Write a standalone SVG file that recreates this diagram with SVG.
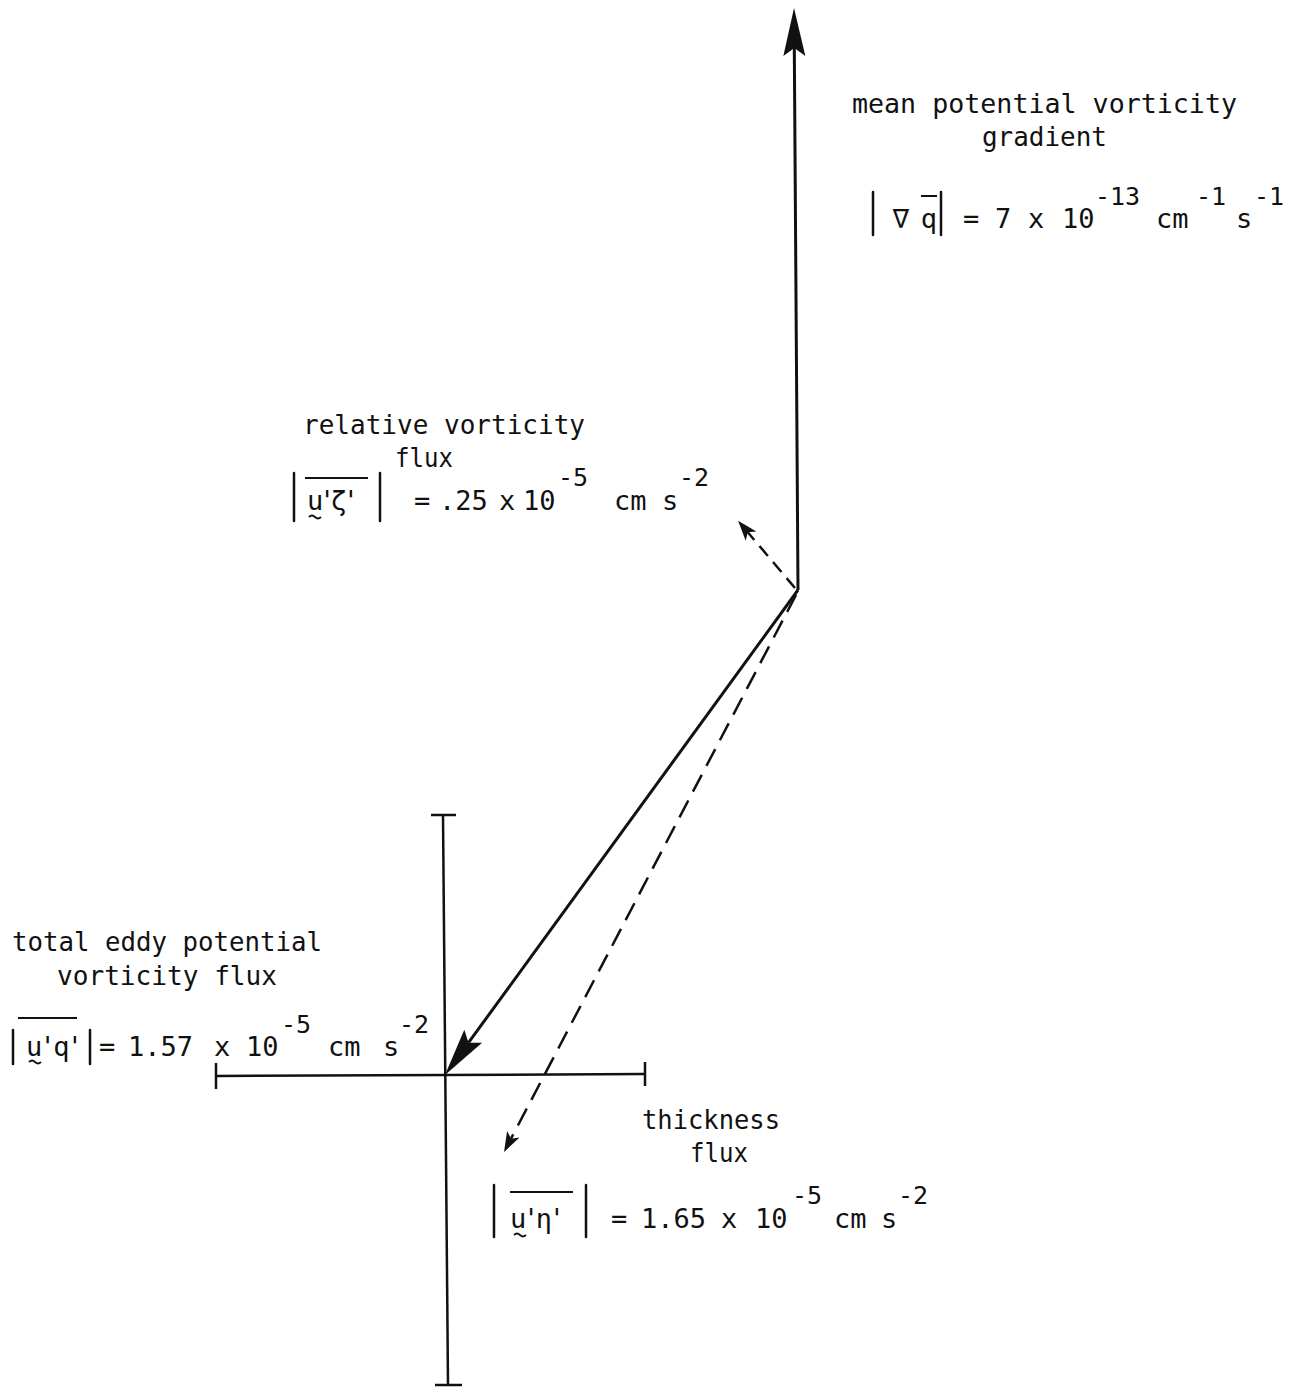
<svg xmlns="http://www.w3.org/2000/svg" width="1302" height="1389" viewBox="0 0 1302 1389">
<style>
text { font-family: "DejaVu Sans Mono", "Liberation Mono", monospace; fill: #111; }
.w { font-size: 27px; }
.f { font-size: 27px; }
.sup { font-size: 25px; }
.mid { text-anchor: middle; }
.bar { stroke: #111; stroke-width: 2.5; stroke-linecap: round; fill: none; }
.ol { stroke: #111; stroke-width: 2; fill: none; }
.til { stroke: #111; stroke-width: 1.8; fill: none; }
.solid { stroke: #111; stroke-width: 3; fill: none; }
.dash { stroke: #111; stroke-width: 2.5; fill: none; stroke-dasharray: 13 8; }
.dashlong { stroke: #111; stroke-width: 2.5; fill: none; stroke-dasharray: 19 10; }
.axis { stroke: #111; stroke-width: 2.5; fill: none; }
</style>
<defs>
<marker id="bigHead" markerUnits="userSpaceOnUse" viewBox="-2 -14 54 28" markerWidth="54" markerHeight="28" refX="8" refY="0" orient="auto">
<path d="M0,-11 L48,0 L0,11 L8,0 Z" fill="#111"/>
</marker>
<marker id="smallHead" markerUnits="userSpaceOnUse" viewBox="-2 -10 26 20" markerWidth="26" markerHeight="20" refX="5" refY="0" orient="auto">
<path d="M0,-7 L20,0 L0,7 L5,0 Z" fill="#111"/>
</marker>
</defs>
<rect width="1302" height="1389" fill="#fff"/>

<g id="axes">
<line class="axis" x1="443" y1="815" x2="448" y2="1385"/>
<line class="axis" x1="431" y1="815" x2="456" y2="815"/>
<line class="axis" x1="435" y1="1385" x2="462" y2="1385"/>
<line class="axis" x1="216" y1="1076" x2="645" y2="1074"/>
<line class="axis" x1="216" y1="1063" x2="216" y2="1089"/>
<line class="axis" x1="645" y1="1062" x2="645" y2="1086"/>
</g>

<g id="connectors">
<line class="solid" x1="798" y1="590" x2="794.3" y2="48" marker-end="url(#bigHead)"/>
<line class="solid" x1="798" y1="590" x2="468.5" y2="1042.7" marker-end="url(#bigHead)"/>
<line class="dash" x1="795" y1="588" x2="747.8" y2="532.3" marker-end="url(#smallHead)"/>
<line class="dashlong" x1="796" y1="595" x2="511" y2="1138.7" marker-end="url(#smallHead)"/>
</g>

<g id="gradient-label">
<text class="w" x="852" y="113" textLength="385" lengthAdjust="spacingAndGlyphs">mean potential vorticity</text>
<text class="w" x="982" y="146" textLength="125" lengthAdjust="spacingAndGlyphs">gradient</text>
<line class="bar" x1="873" y1="192" x2="873" y2="235"/>
<line class="bar" x1="941" y1="192" x2="941" y2="235"/>
<text class="f mid" x="901" y="228">∇</text>
<text class="f mid" x="929" y="228">q</text>
<line class="ol" x1="921" y1="196" x2="937" y2="196"/>
<text class="f" x="963" y="228">=</text>
<text class="f" x="995" y="228">7</text>
<text class="f" x="1028" y="228">x</text>
<text class="f" x="1062" y="228">10</text>
<text class="sup" x="1095" y="205">-13</text>
<text class="f" x="1156" y="228">cm</text>
<text class="sup" x="1196" y="205">-1</text>
<text class="f" x="1236" y="228">s</text>
<text class="sup" x="1254" y="205">-1</text>
</g>

<g id="relative-label">
<text class="w" x="303" y="434" textLength="282" lengthAdjust="spacingAndGlyphs">relative vorticity</text>
<text class="w" x="395" y="467" textLength="58" lengthAdjust="spacingAndGlyphs">flux</text>
<line class="bar" x1="294" y1="473" x2="294" y2="521"/>
<line class="bar" x1="380" y1="473" x2="380" y2="521"/>
<line class="ol" x1="305" y1="478" x2="368" y2="478"/>
<text class="f" x="307" y="510" textLength="52" lengthAdjust="spacing">u'ζ'</text>
<path class="til" d="M309,517 q3,-3 6,0 t6,0"/>
<text class="f" x="414" y="510">=</text>
<text class="f" x="439" y="510">.25</text>
<text class="f" x="499" y="510">x</text>
<text class="f" x="523" y="510">10</text>
<text class="sup" x="558" y="486">-5</text>
<text class="f" x="614" y="510">cm</text>
<text class="f" x="662" y="510">s</text>
<text class="sup" x="679" y="486">-2</text>
</g>

<g id="total-label">
<text class="w" x="12" y="951" textLength="310" lengthAdjust="spacingAndGlyphs">total eddy potential</text>
<text class="w" x="57" y="985" textLength="220" lengthAdjust="spacingAndGlyphs">vorticity flux</text>
<line class="bar" x1="13" y1="1030" x2="13" y2="1064"/>
<line class="bar" x1="90" y1="1030" x2="90" y2="1064"/>
<line class="ol" x1="18" y1="1018" x2="77" y2="1018"/>
<text class="f" x="26" y="1056" textLength="57" lengthAdjust="spacing">u'q'</text>
<path class="til" d="M29,1062 q3,-3 6,0 t6,0"/>
<text class="f" x="99" y="1056">=</text>
<text class="f" x="128" y="1056">1.57</text>
<text class="f" x="214" y="1056">x</text>
<text class="f" x="246" y="1056">10</text>
<text class="sup" x="281" y="1033">-5</text>
<text class="f" x="328" y="1056">cm</text>
<text class="f" x="383" y="1056">s</text>
<text class="sup" x="399" y="1033">-2</text>
</g>

<g id="thickness-label">
<text class="w" x="642" y="1129" textLength="138" lengthAdjust="spacingAndGlyphs">thickness</text>
<text class="w" x="690" y="1162" textLength="58" lengthAdjust="spacingAndGlyphs">flux</text>
<line class="bar" x1="494" y1="1185" x2="494" y2="1237"/>
<line class="bar" x1="586" y1="1185" x2="586" y2="1237"/>
<line class="ol" x1="510" y1="1192" x2="573" y2="1192"/>
<text class="f" x="510" y="1228" textLength="55" lengthAdjust="spacing">u'η'</text>
<path class="til" d="M514,1235 q3,-3 6,0 t6,0"/>
<text class="f" x="611" y="1228">=</text>
<text class="f" x="641" y="1228">1.65</text>
<text class="f" x="721" y="1228">x</text>
<text class="f" x="755" y="1228">10</text>
<text class="sup" x="792" y="1204">-5</text>
<text class="f" x="834" y="1228">cm</text>
<text class="f" x="881" y="1228">s</text>
<text class="sup" x="898" y="1204">-2</text>
</g>
</svg>
